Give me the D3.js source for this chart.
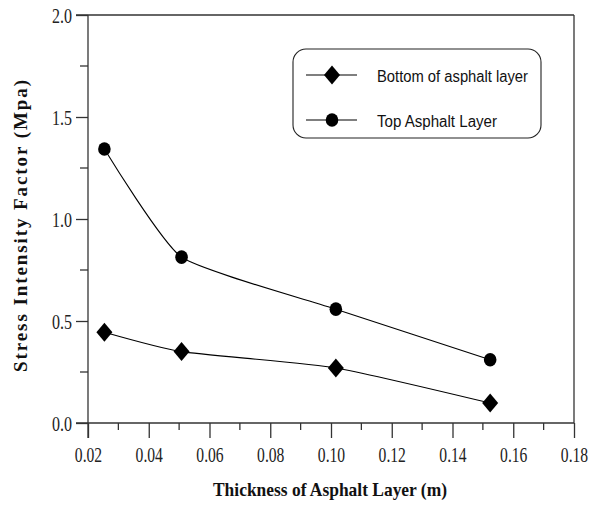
<!DOCTYPE html>
<html><head><meta charset="utf-8">
<script src="https://cdn.jsdelivr.net/npm/d3@7"></script>
<style>body{margin:0;background:#fff}svg{display:block}</style>
</head><body>
<svg id="c" width="589" height="506"></svg>
<script>
const thickness = [0.0254, 0.0508, 0.1016, 0.1524];
const bottomLayer = [0.445, 0.35, 0.27, 0.098];
const topLayer = [1.343, 0.813, 0.558, 0.31];
const xTicks = [0.02, 0.04, 0.06, 0.08, 0.10, 0.12, 0.14, 0.16, 0.18];
const yTicks = [0.0, 0.5, 1.0, 1.5, 2.0];
const seriesNames = ["Bottom of asphalt layer", "Top Asphalt Layer"];
const xTitle = "Thickness of Asphalt Layer (m)";
const yTitle = "Stress Intensity Factor (Mpa)";

const SERIF = "'Liberation Serif','Times New Roman',Times,serif";
const SANS = "'Liberation Sans',Arial,Helvetica,sans-serif";
const svg = d3.select("#c");
const L = 88, R = 574, T = 15, B = 423;
const x = d3.scaleLinear().domain([0.02, 0.18]).range([L, R]);
const y = d3.scaleLinear().domain([0, 2]).range([B, T]);
const axCol = "#333";
const SY = 1.28; // vertical stretch of tick labels (tall, narrow digits)

// frame: top and right
svg.append("line").attr("x1", L - 12).attr("x2", R).attr("y1", T).attr("y2", T).attr("stroke", axCol).attr("stroke-width", 1.3);
svg.append("line").attr("x1", R).attr("x2", R).attr("y1", T).attr("y2", B).attr("stroke", axCol).attr("stroke-width", 1.3);

// x axis
const xMinor = d3.range(0, 17).map(i => 0.02 + i * 0.01).filter(v => !xTicks.some(t => Math.abs(t - v) < 1e-9));
const gx = svg.append("g").attr("transform", `translate(0,${B})`)
  .call(d3.axisBottom(x).tickValues(xTicks).tickSize(15).tickPadding(10).tickFormat(d3.format(".2f")));
gx.attr("font-family", null).attr("font-size", null);
gx.select(".domain").attr("stroke", axCol).attr("stroke-width", 1.3).attr("d", `M${L - 12},0H${R}`);
gx.selectAll(".tick line").attr("stroke", axCol).attr("stroke-width", 1.3);
gx.selectAll(".tick text").style("font-family", SERIF).style("font-size", "15.6px").attr("fill", "#222")
  .attr("dy", null).attr("y", 39 / SY).attr("transform", `scale(1,${SY})`);
svg.append("g").selectAll("line").data(xMinor).join("line")
  .attr("x1", d => x(d)).attr("x2", d => x(d)).attr("y1", B).attr("y2", B + 7)
  .attr("stroke", axCol).attr("stroke-width", 1.3);

// y axis
const yMinor = [0.25, 0.75, 1.25, 1.75];
const gy = svg.append("g").attr("transform", `translate(${L},0)`)
  .call(d3.axisLeft(y).tickValues(yTicks).tickSize(12).tickPadding(5).tickFormat(d3.format(".1f")));
gy.attr("font-family", null).attr("font-size", null);
gy.select(".domain").attr("stroke", axCol).attr("stroke-width", 1.3).attr("d", `M0,${B + 15}V${T}`);
gy.selectAll(".tick line").attr("stroke", axCol).attr("stroke-width", 1.3);
gy.selectAll(".tick text").style("font-family", SERIF).style("font-size", "16px").attr("fill", "#222")
  .attr("dy", null).attr("y", 7.5 / SY).attr("x", -16).attr("transform", `scale(1,${SY})`);
svg.append("g").selectAll("line").data(yMinor).join("line")
  .attr("x1", L - 8).attr("x2", L).attr("y1", d => y(d)).attr("y2", d => y(d))
  .attr("stroke", axCol).attr("stroke-width", 1.3);

// lines
const line = d3.line().x(d => x(d[0])).y(d => y(d[1])).curve(d3.curveCardinal.tension(0.5));
const bData = thickness.map((t, i) => [t, bottomLayer[i]]);
const tData = thickness.map((t, i) => [t, topLayer[i]]);
svg.append("path").attr("d", line(bData)).attr("fill", "none").attr("stroke", "#000").attr("stroke-width", 1.1);
svg.append("path").attr("d", line(tData)).attr("fill", "none").attr("stroke", "#000").attr("stroke-width", 1.1);

const diamond = (cx, cy) => `M${cx},${cy - 9.5}L${cx + 8},${cy}L${cx},${cy + 9.5}L${cx - 8},${cy}Z`;
svg.append("g").selectAll("path").data(bData).join("path")
  .attr("d", d => diamond(x(d[0]), y(d[1]))).attr("fill", "#000");
svg.append("g").selectAll("ellipse").data(tData).join("ellipse")
  .attr("cx", d => x(d[0])).attr("cy", d => y(d[1])).attr("rx", 6.3).attr("ry", 6.8).attr("fill", "#000");

// legend
svg.append("rect").attr("x", 293).attr("y", 49).attr("width", 248).attr("height", 89)
  .attr("rx", 13).attr("fill", "#fff").attr("stroke", "#222").attr("stroke-width", 1.1);
const rows = [75, 120];
const legendWidths = [151, 120];
rows.forEach((ry, i) => {
  svg.append("line").attr("x1", 306).attr("x2", 357).attr("y1", ry).attr("y2", ry).attr("stroke", "#000").attr("stroke-width", 1.1);
  if (i === 0) svg.append("path").attr("d", diamond(332, ry)).attr("fill", "#000");
  else svg.append("ellipse").attr("cx", 332).attr("cy", ry).attr("rx", 6.3).attr("ry", 6.8).attr("fill", "#000");
  svg.append("text").attr("x", 377).attr("y", ry + 6.5).text(seriesNames[i])
    .style("font-family", SANS).style("font-size", "16px").attr("fill", "#111")
    .attr("textLength", legendWidths[i]).attr("lengthAdjust", "spacingAndGlyphs");
});

// titles
svg.append("text").attr("x", 330).attr("y", 496).attr("text-anchor", "middle").text(xTitle)
  .style("font-family", SERIF).style("font-weight", "bold").style("font-size", "19px").attr("fill", "#111")
  .attr("textLength", 234).attr("lengthAdjust", "spacingAndGlyphs");
svg.append("text").attr("transform", "translate(27,226) rotate(-90)").attr("text-anchor", "middle").text(yTitle)
  .style("font-family", SERIF).style("font-weight", "bold").style("font-size", "19px").attr("fill", "#111")
  .attr("textLength", 292).attr("lengthAdjust", "spacing");
</script>
</body></html>
